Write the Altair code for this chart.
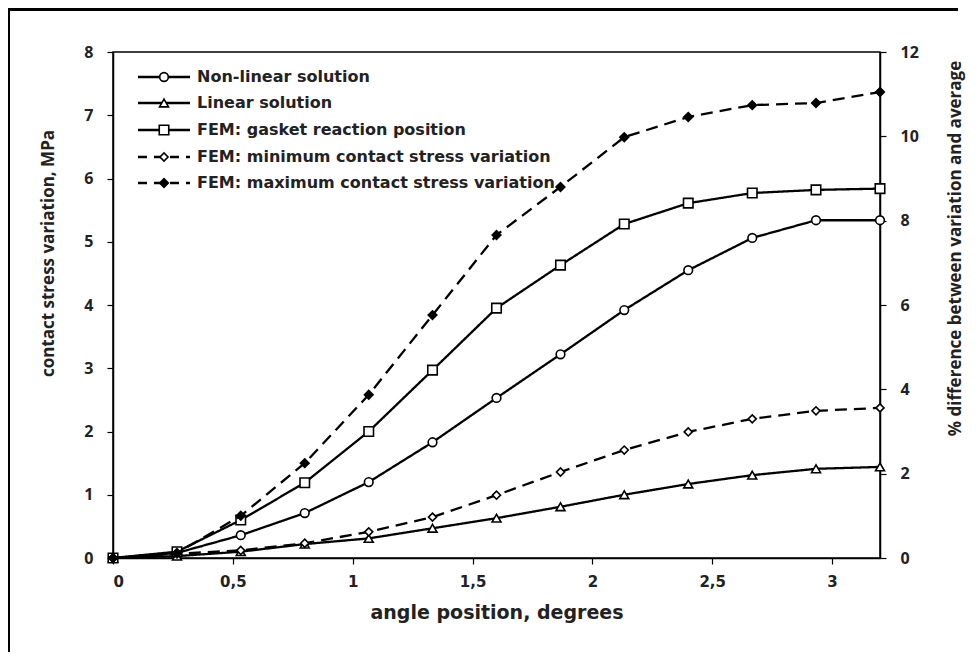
import altair as alt
import pandas as pd

# ---- data ----
angle = [0, 0.267, 0.533, 0.8, 1.067, 1.333, 1.6, 1.867, 2.133, 2.4, 2.667, 2.933, 3.2]

nonlinear = [0, 0.08, 0.36, 0.71, 1.20, 1.83, 2.53, 3.22, 3.92, 4.55, 5.06, 5.34, 5.34]
linear = [0, 0.03, 0.10, 0.22, 0.31, 0.47, 0.63, 0.81, 1.00, 1.17, 1.31, 1.41, 1.44]
gasket = [0, 0.10, 0.60, 1.19, 2.00, 2.97, 3.95, 4.63, 5.28, 5.61, 5.77, 5.82, 5.84]
# right axis (% difference)
fem_min = [0, 0.10, 0.18, 0.35, 0.62, 0.97, 1.49, 2.04, 2.56, 2.99, 3.30, 3.49, 3.56]
fem_max = [0, 0.12, 1.00, 2.25, 3.87, 5.76, 7.66, 8.80, 9.98, 10.46, 10.74, 10.79, 11.05]

names = [
    "Non-linear solution",
    "Linear solution",
    "FEM: gasket reaction position",
    "FEM: minimum contact stress variation",
    "FEM: maximum contact stress variation",
]
values = [nonlinear, linear, gasket, fem_min, fem_max]
axis_side = ["left", "left", "left", "right", "right"]
shapes = ["circle", "triangle-up", "square", "diamond", "diamond"]
filled = [False, False, False, False, True]
dashed = [False, False, False, True, True]
sizes = [75, 80, 90, 65, 75]

FONT = "Open Sans"
WIDE = "DejaVu Sans"
INK = "#222222"
W, H = 767, 506

xscale = alt.Scale(domain=[0, 3.2], nice=False, zero=False)
xaxis = alt.Axis(
    values=[0, 0.5, 1, 1.5, 2, 2.5, 3], title="angle position, degrees",
    labelExpr="replace(format(datum.value, ''), '.', ',')",
    titleFont=WIDE, labelFont=WIDE,
)

left_layers, right_layers = [], []
for name, vals, side, shp, fil, dsh, sz in zip(names, values, axis_side, shapes, filled, dashed, sizes):
    df = pd.DataFrame({"angle": angle, "v": vals, "series": name})
    if side == "left":
        ysc = alt.Scale(domain=[0, 8], nice=False)
        yax = alt.Axis(values=list(range(0, 9)), title="contact stress variation, MPa", orient="left",
                       titleX=-65, titleY=201, titleBaseline="middle", titleAngle=-90)
    else:
        ysc = alt.Scale(domain=[0, 12], nice=False)
        yax = alt.Axis(values=list(range(0, 13, 2)), title="% difference between variation and average",
                       orient="right", titleAngle=-90, titleX=75, titleY=196, titleBaseline="middle")
    enc = dict(
        x=alt.X("angle:Q", scale=xscale, axis=xaxis),
        y=alt.Y("v:Q", scale=ysc, axis=yax),
    )
    line = alt.Chart(df).mark_line(
        color="black", strokeWidth=2.3, strokeDash=[12, 7] if dsh else [1, 0]
    ).encode(**enc)
    pts = alt.Chart(df).mark_point(
        shape=shp, filled=True, fill="black" if fil else "white",
        stroke="black", strokeWidth=1.6, size=sz, opacity=1,
    ).encode(**enc)
    (left_layers if side == "left" else right_layers).extend([line, pts])

left = alt.layer(*left_layers)
right = alt.layer(*right_layers)

# ---- custom legend (inside, top-left) ----
leg_rows = [25, 51, 78, 105, 131]
legend_layers = []
for i, name in enumerate(names):
    ldf = pd.DataFrame({"label": [name]})
    yv = leg_rows[i]
    legend_layers.append(
        alt.Chart(ldf).mark_rule(color="black", strokeWidth=2.3,
                                 strokeDash=[9, 7] if dashed[i] else [1, 0]).encode(
            x=alt.value(25), x2=alt.value(77), y=alt.value(yv))
    )
    legend_layers.append(
        alt.Chart(ldf).mark_point(shape=shapes[i], filled=True,
                                  fill="black" if filled[i] else "white", stroke="black",
                                  strokeWidth=1.6, size=sizes[i], opacity=1).encode(
            x=alt.value(51), y=alt.value(yv))
    )
    legend_layers.append(
        alt.Chart(ldf).mark_text(align="left", baseline="middle", font=WIDE, fontSize=16,
                                 fontWeight="bold", color=INK).encode(
            x=alt.value(84), y=alt.value(yv), text="label:N")
    )

# outer picture frame: only top and left edges are visible in the reference
frame_df = pd.DataFrame({"f": [1]})
frame_top = alt.Chart(frame_df).mark_rect(color="black", strokeWidth=0).encode(
    x=alt.value(-106), x2=alt.value(845), y=alt.value(-44), y2=alt.value(-41)
)
frame_left = alt.Chart(frame_df).mark_rect(color="black", strokeWidth=0).encode(
    x=alt.value(-106), x2=alt.value(-103), y=alt.value(-44), y2=alt.value(600)
)

chart = alt.layer(left, right, *legend_layers, frame_top, frame_left).resolve_scale(y="independent").properties(
    width=W, height=H,
    autosize=alt.AutoSizeParams(type="none"),
    padding={"left": 105, "top": 44, "right": 86, "bottom": 100},
).configure_view(
    stroke="black", strokeWidth=1.5
).configure_axis(
    grid=False, domainColor="black", domainWidth=1.5, tickColor="black", tickWidth=1.2,
    tickSize=6, labelFont=FONT, labelFontSize=16, labelFontWeight="bold", labelColor=INK,
    titleFont=FONT, titleFontSize=17, titleFontWeight="bold", titleColor=INK, labelPadding=8,
).configure_axisX(
    titleFontSize=19, titlePadding=14, labelPadding=10, labelFontSize=15
).configure_axisLeft(
    labelPadding=14
).configure_axisRight(
    labelPadding=14
)

chart.save("out.html", embed_options={"renderer": "svg", "actions": False})
